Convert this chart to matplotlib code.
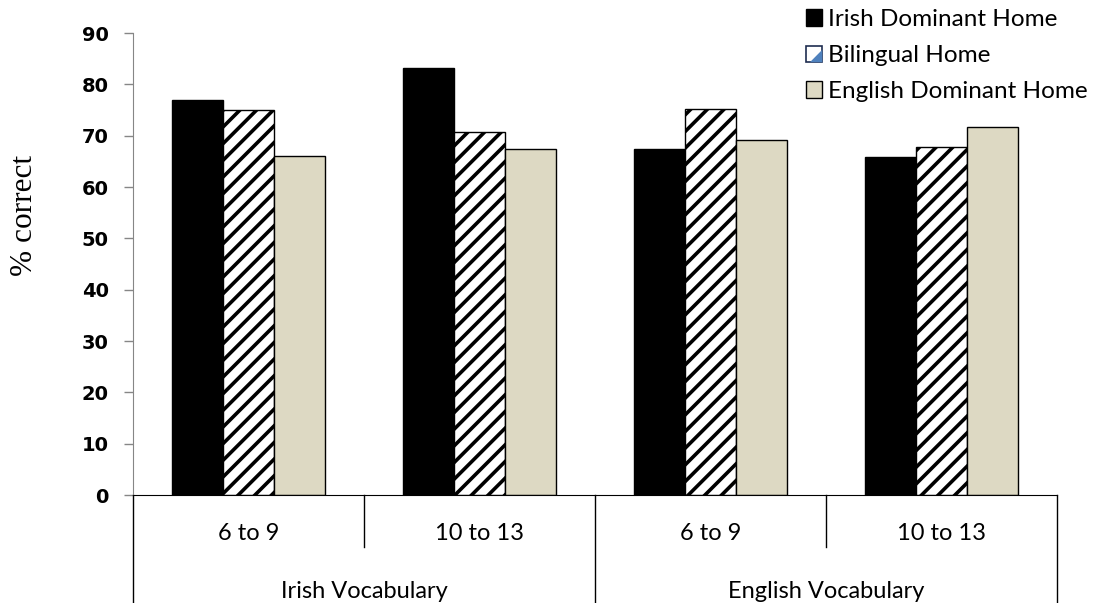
import numpy as np
import matplotlib.pyplot as plt
from matplotlib.patches import Patch, Rectangle, Polygon
from matplotlib.legend_handler import HandlerBase

# data
ages = ['6 to 9', '10 to 13', '6 to 9', '10 to 13']
tests = ['Irish Vocabulary', 'English Vocabulary']
irish_dominant = [77.0, 83.2, 67.5, 65.9]
bilingual = [75.1, 70.7, 75.2, 67.8]
english_dominant = [66.1, 67.5, 69.1, 71.8]
series_names = ['Irish Dominant Home', 'Bilingual Home', 'English Dominant Home']


class BilingualIcon(HandlerBase):
    # white box with the small blue corner seen in the reference legend
    def create_artists(self, legend, orig_handle, xd, yd, width, height, fontsize, trans):
        box = Rectangle((xd, yd), width, height, facecolor='white',
                        edgecolor='#1F2D50', lw=1.2, transform=trans)
        tri = Polygon([[xd + width, yd], [xd + width, yd + height * 0.75],
                       [xd + width * 0.25, yd]], closed=True,
                      facecolor='#4F81BD', edgecolor='none', transform=trans)
        return [box, tri]


plt.rcParams['hatch.linewidth'] = 2.6

fig = plt.figure(figsize=(10.96, 6.03), dpi=100)
ax = fig.add_axes([0.1214, 0.179, 0.843, 0.766])

x = np.arange(len(ages)) + 0.5
w = 0.22
ax.bar(x - w, irish_dominant, w, color='black', edgecolor='black', linewidth=1)
ax.bar(x, bilingual, w, color='white', edgecolor='black', linewidth=1, hatch='//')
ax.bar(x + w, english_dominant, w, color='#DDD9C3', edgecolor='black', linewidth=1)

ax.set_xlim(0, len(ages))
ax.set_ylim(0, 90)
ax.set_yticks(np.arange(0, 91, 10))
ax.set_xticks([])
for s in ['top', 'right']:
    ax.spines[s].set_visible(False)
ax.spines['left'].set_color('#868686')
ax.spines['bottom'].set_color('black')
ax.tick_params(axis='y', length=6.5, width=1, color='#868686', pad=11)
for lab in ax.get_yticklabels():
    lab.set_fontfamily('DejaVu Sans')
    lab.set_fontweight('bold')
    lab.set_fontsize(14)

# category table below the axis
trans = ax.get_xaxis_transform()
for i in range(len(ages) + 1):
    low = -0.234 if i % 2 == 0 else -0.113
    ax.plot([i, i], [0, low], transform=trans, color='black', lw=1, clip_on=False)
for i, a in enumerate(ages):
    ax.text(x[i], -0.097, a, transform=trans, ha='center', va='baseline',
            fontsize=17, family='Lato')
for j, t in enumerate(tests):
    ax.text(2 * j + 1, -0.222, t, transform=trans, ha='center', va='baseline',
            fontsize=17, family='Lato')

fig.text(0.022, 0.642, '% correct', rotation=90, ha='center', va='center',
         fontsize=22.5, family='Liberation Serif')

handles = [Patch(facecolor='black', edgecolor='black'),
           Patch(facecolor='white', edgecolor='black'),
           Patch(facecolor='#DDD9C3', edgecolor='black')]
fig.legend(handles, series_names, loc='upper right',
           bbox_to_anchor=(1088 / 1096, 1 - 9 / 603),
           frameon=False, prop={'family': 'Lato', 'size': 17.5},
           handlelength=0.68, handleheight=0.68, handletextpad=0.25,
           labelspacing=0.62, borderpad=0, borderaxespad=0,
           handler_map={handles[1]: BilingualIcon()})

fig.savefig('out.png', dpi=100)
